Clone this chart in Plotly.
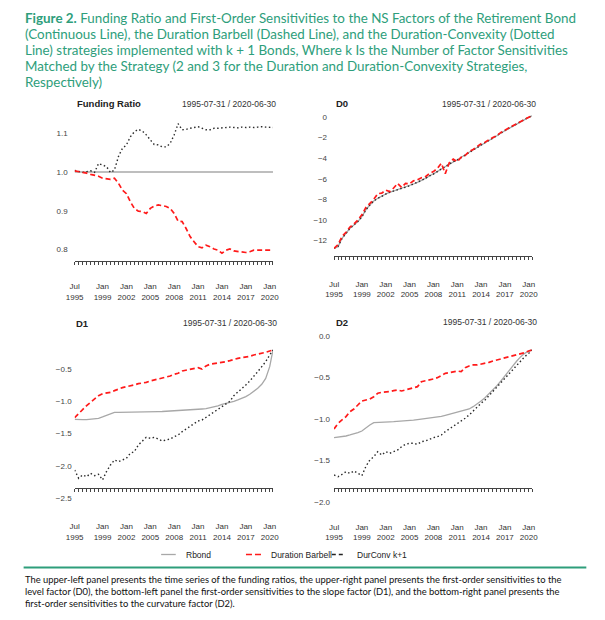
import plotly.graph_objects as go

W, H = 605, 620

# ---------------- data (semi-annual readings) ----------------
DATES = [
    "1995-07-31", "1996-01-31", "1996-07-31", "1997-01-31", "1997-07-31", "1998-01-31",
    "1998-07-31", "1999-01-31", "1999-07-31", "2000-01-31", "2000-07-31", "2001-01-31",
    "2001-07-31", "2002-01-31", "2002-07-31", "2003-01-31", "2003-07-31", "2004-01-31",
    "2004-07-31", "2005-01-31", "2005-07-31", "2006-01-31", "2006-07-31", "2007-01-31",
    "2007-07-31", "2008-01-31", "2008-07-31", "2009-01-31", "2009-07-31", "2010-01-31",
    "2010-07-31", "2011-01-31", "2011-07-31", "2012-01-31", "2012-07-31", "2013-01-31",
    "2013-07-31", "2014-01-31", "2014-07-31", "2015-01-31", "2015-07-31", "2016-01-31",
    "2016-07-31", "2017-01-31", "2017-07-31", "2018-01-31", "2018-07-31", "2019-01-31",
    "2019-07-31", "2020-01-31", "2020-06-30",
]

# Funding ratio
FR_RBOND = [1.000, 1.000, 1.000, 1.000, 1.000, 1.000, 1.000, 1.000, 1.000, 1.000,
            1.000, 1.000, 1.000, 1.000, 1.000, 1.000, 1.000, 1.000, 1.000, 1.000,
            1.000, 1.000, 1.000, 1.000, 1.000, 1.000, 1.000, 1.000, 1.000, 1.000,
            1.000, 1.000, 1.000, 1.000, 1.000, 1.000, 1.000, 1.000, 1.000, 1.000,
            1.000, 1.000, 1.000, 1.000, 1.000, 1.000, 1.000, 1.000, 1.000, 1.000, 1.000]
FR_DUR = [1.003, 1.001, 1.000, 0.997, 0.994, 0.992, 0.989, 0.984, 0.982, 0.981,
          0.984, 0.971, 0.953, 0.944, 0.923, 0.906, 0.899, 0.898, 0.893, 0.906,
          0.912, 0.915, 0.913, 0.911, 0.906, 0.893, 0.873, 0.872, 0.854, 0.833,
          0.820, 0.807, 0.804, 0.811, 0.807, 0.801, 0.798, 0.790, 0.798, 0.801,
          0.796, 0.794, 0.794, 0.792, 0.794, 0.798, 0.798, 0.798, 0.798, 0.798, 0.798]
FR_DURCONV = [1.004, 1.002, 0.999, 1.001, 1.003, 0.999, 1.022, 1.018, 1.014, 0.999,
              1.005, 1.040, 1.061, 1.070, 1.091, 1.104, 1.110, 1.106, 1.096, 1.083,
              1.071, 1.070, 1.065, 1.065, 1.074, 1.096, 1.125, 1.109, 1.110, 1.113,
              1.115, 1.117, 1.113, 1.109, 1.109, 1.113, 1.113, 1.114, 1.115, 1.116,
              1.115, 1.114, 1.116, 1.115, 1.116, 1.115, 1.116, 1.117, 1.116, 1.115, 1.115]

# D0
D0_RBOND = [-12.75, -12.59, -11.78, -11.30, -10.81, -10.49, -10.16, -9.68, -9.03, -8.55,
            -8.16, -7.90, -7.67, -7.48, -7.32, -7.19, -7.03, -6.93, -6.83, -6.67,
            -6.51, -6.35, -6.18, -5.96, -5.73, -5.54, -5.31, -5.05, -4.83, -4.57,
            -4.34, -4.18, -3.95, -3.69, -3.43, -3.21, -2.95, -2.72, -2.50, -2.27,
            -2.04, -1.82, -1.56, -1.33, -1.10, -0.88, -0.65, -0.42, -0.23, -0.04, 0.12]
D0_DUR = [-12.75, -12.40, -11.60, -11.20, -10.70, -10.40, -10.00, -9.50, -8.80, -8.40,
          -8.00, -7.45, -7.40, -7.10, -7.25, -6.90, -6.45, -6.85, -6.45, -6.50,
          -6.20, -6.10, -5.90, -5.80, -5.50, -5.30, -5.00, -4.50, -5.50, -4.45,
          -4.10, -4.35, -3.90, -3.75, -3.35, -3.15, -2.90, -2.60, -2.45, -2.20,
          -2.00, -1.80, -1.50, -1.30, -1.05, -0.85, -0.65, -0.42, -0.22, -0.03, 0.12]
D0_DURCONV = [-12.74, -12.58, -11.80, -11.28, -10.82, -10.48, -10.15, -9.70, -9.02, -8.56,
              -8.15, -7.91, -7.66, -7.49, -7.31, -7.20, -7.02, -6.94, -6.82, -6.68,
              -6.50, -6.36, -6.17, -5.97, -5.72, -5.55, -5.30, -5.06, -4.82, -4.58,
              -4.33, -4.19, -3.94, -3.70, -3.42, -3.22, -2.94, -2.73, -2.49, -2.28,
              -2.03, -1.83, -1.55, -1.34, -1.09, -0.89, -0.64, -0.43, -0.22, -0.04, 0.12]

# D1
D1_RBOND = [-1.277, -1.283, -1.283, -1.283, -1.277, -1.272, -1.262, -1.241, -1.220, -1.195,
            -1.169, -1.169, -1.169, -1.169, -1.168, -1.167, -1.166, -1.164, -1.162, -1.160,
            -1.159, -1.158, -1.156, -1.153, -1.151, -1.148, -1.146, -1.143, -1.138, -1.132,
            -1.127, -1.122, -1.117, -1.112, -1.101, -1.086, -1.070, -1.044, -1.031, -1.019,
            -0.999, -0.977, -0.952, -0.925, -0.889, -0.848, -0.796, -0.734, -0.641, -0.460, -0.201]
D1_DUR = [-1.252, -1.184, -1.117, -1.065, -1.013, -0.967, -0.910, -0.879, -0.869, -0.858,
          -0.832, -0.806, -0.786, -0.770, -0.760, -0.744, -0.724, -0.718, -0.703, -0.682,
          -0.667, -0.651, -0.630, -0.615, -0.605, -0.579, -0.563, -0.527, -0.517, -0.496,
          -0.486, -0.475, -0.496, -0.449, -0.423, -0.413, -0.408, -0.392, -0.382, -0.366,
          -0.346, -0.330, -0.320, -0.310, -0.299, -0.278, -0.268, -0.253, -0.237, -0.216, -0.201]
D1_DURCONV = [-2.064, -2.193, -2.142, -2.168, -2.116, -2.152, -2.131, -2.219, -2.090, -1.986,
              -1.909, -1.935, -1.909, -1.883, -1.805, -1.779, -1.676, -1.614, -1.557, -1.572,
              -1.557, -1.583, -1.614, -1.598, -1.583, -1.547, -1.521, -1.469, -1.427, -1.391,
              -1.355, -1.303, -1.288, -1.246, -1.210, -1.169, -1.122, -1.081, -1.039, -0.998,
              -0.910, -0.858, -0.796, -0.744, -0.682, -0.615, -0.537, -0.460, -0.382, -0.278, -0.201]

# D2
D2_RBOND = [-1.225, -1.221, -1.213, -1.205, -1.193, -1.181, -1.165, -1.145, -1.105, -1.073,
            -1.045, -1.040, -1.040, -1.036, -1.034, -1.032, -1.030, -1.028, -1.024, -1.020,
            -1.014, -1.008, -1.002, -0.996, -0.990, -0.984, -0.976, -0.968, -0.956, -0.944,
            -0.932, -0.920, -0.910, -0.900, -0.880, -0.852, -0.820, -0.784, -0.744, -0.699,
            -0.651, -0.599, -0.543, -0.479, -0.419, -0.358, -0.302, -0.250, -0.210, -0.182, -0.170]
D2_DUR = [-1.121, -1.053, -1.012, -0.972, -0.912, -0.880, -0.832, -0.784, -0.772, -0.760,
          -0.732, -0.691, -0.679, -0.679, -0.671, -0.659, -0.651, -0.663, -0.651, -0.631,
          -0.623, -0.611, -0.551, -0.543, -0.535, -0.519, -0.503, -0.479, -0.451, -0.443,
          -0.431, -0.423, -0.431, -0.382, -0.362, -0.350, -0.350, -0.342, -0.330, -0.318,
          -0.302, -0.290, -0.278, -0.262, -0.250, -0.238, -0.230, -0.218, -0.202, -0.182, -0.170]
D2_DURCONV = [-1.675, -1.695, -1.667, -1.635, -1.655, -1.626, -1.655, -1.683, -1.574, -1.494,
              -1.454, -1.394, -1.434, -1.394, -1.414, -1.394, -1.374, -1.334, -1.305, -1.293,
              -1.293, -1.305, -1.273, -1.265, -1.241, -1.225, -1.213, -1.193, -1.153, -1.121,
              -1.093, -1.053, -1.032, -0.992, -0.952, -0.904, -0.852, -0.812, -0.772, -0.719,
              -0.671, -0.623, -0.571, -0.519, -0.463, -0.410, -0.358, -0.302, -0.250, -0.210, -0.170]

# tick labels
X_TICK_LABELS = {
    "1995-07-31": "Jul<br>1995", "1999-01-31": "Jan<br>1999", "2002-01-31": "Jan<br>2002",
    "2005-01-31": "Jan<br>2005", "2008-01-31": "Jan<br>2008", "2011-01-31": "Jan<br>2011",
    "2014-01-31": "Jan<br>2014", "2017-01-31": "Jan<br>2017", "2020-01-31": "Jan<br>2020",
}
FR_TICKS = [0.8, 0.9, 1.0, 1.1]
D0_TICKS = [0, -2, -4, -6, -8, -10, -12]
D1_TICKS = [-0.5, -1.0, -1.5, -2.0, -2.5]
D2_TICKS = [0.0, -0.5, -1.0, -1.5, -2.0]

PANEL_TITLES = ["Funding Ratio", "D0", "D1", "D2"]
PERIOD = "1995-07-31 / 2020-06-30"
SERIES_NAMES = ["Rbond", "Duration Barbell", "DurConv k+1"]

TITLE_LINES = [
    "<b>Figure 2.</b> Funding Ratio and First-Order Sensitivities to the NS Factors of the Retirement Bond",
    "(Continuous Line), the Duration Barbell (Dashed Line), and the Duration-Convexity (Dotted",
    "Line) strategies implemented with k + 1 Bonds, Where k Is the Number of Factor Sensitivities",
    "Matched by the Strategy (2 and 3 for the Duration and Duration-Convexity Strategies,",
    "Respectively)",
]
CAPTION_LINES = [
    "The upper-left panel presents the time series of the funding ratios, the upper-right panel presents the first-order sensitivities to the",
    "level factor (D0), the bottom-left panel the first-order sensitivities to the slope factor (D1), and the bottom-right panel presents the",
    "first-order sensitivities to the curvature factor (D2).",
]

# ---------------- styles ----------------
GREEN = "#2e9e7b"
GRAY = "#a8a8a8"
RED = "#ff1a1a"
DOTC = "#2a2a2a"
AXC = "#444444"
FONT = "Liberation Sans, Arial, sans-serif"


def xp(px):
    return px / W


def yp(py):
    return 1 - py / H


fig = go.Figure()

panels = [
    ("x", "y", FR_RBOND, FR_DUR, FR_DURCONV),
    ("x2", "y2", D0_RBOND, D0_DUR, D0_DURCONV),
    ("x3", "y3", D1_RBOND, D1_DUR, D1_DURCONV),
    ("x4", "y4", D2_RBOND, D2_DUR, D2_DURCONV),
]
for xa, ya, rb, du, dc in panels:
    fig.add_trace(go.Scatter(x=DATES, y=rb, xaxis=xa, yaxis=ya, mode="lines",
                             line=dict(color=GRAY, width=1.3), showlegend=False, name=SERIES_NAMES[0]))
    fig.add_trace(go.Scatter(x=DATES, y=dc, xaxis=xa, yaxis=ya, mode="lines",
                             line=dict(color=DOTC, width=1.4, dash="1.5px,2.5px"), showlegend=False,
                             name=SERIES_NAMES[2]))
    fig.add_trace(go.Scatter(x=DATES, y=du, xaxis=xa, yaxis=ya, mode="lines",
                             line=dict(color=RED, width=1.7, dash="5px,3px"), showlegend=False,
                             name=SERIES_NAMES[1]))

tickvals = DATES
ticktext = [X_TICK_LABELS.get(d, "") for d in DATES]


def xaxis(dom_px, anchor, standoff, position=None):
    d = dict(domain=[xp(dom_px[0]), xp(dom_px[1])], type="date",
             range=[DATES[0], DATES[-1]], showline=True, linecolor=AXC, linewidth=1.3,
             ticks="outside", ticklen=3, tickwidth=1, tickcolor=AXC,
             tickmode="array", tickvals=tickvals, ticktext=ticktext,
             tickfont=dict(family=FONT, size=8, color="#333"), ticklabelstandoff=standoff,
             showgrid=False, zeroline=False, fixedrange=True)
    if position is None:
        d["anchor"] = anchor
    else:
        d["anchor"] = "free"
        d["position"] = position
    return d


def yaxis(dom_py, rng, ticks, fmt, anchor, standoff):
    return dict(domain=[yp(dom_py[1]), yp(dom_py[0])], range=rng, anchor=anchor,
                showline=False, ticks="", ticklen=0, tickmode="array", tickvals=ticks, tickformat=fmt,
                tickfont=dict(family=FONT, size=8, color="#444"), ticklabelstandoff=standoff,
                showgrid=False, zeroline=False, fixedrange=True, automargin=False)


LX = (67.3, 270.7)
RX = (333.3, 536.3)

fig.update_layout(
    width=W, height=H, margin=dict(l=0, r=0, t=0, b=0),
    paper_bgcolor="white", plot_bgcolor="white", showlegend=False,
    xaxis=xaxis(LX, "y", 15),
    yaxis=yaxis((110, 260.7), [0.7708, 1.1602], FR_TICKS, ".1f", "x", 6),
    xaxis2=xaxis(RX, "y2", 17),
    yaxis2=yaxis((110, 256), [-13.50, 0.676], D0_TICKS, "d", "x2", 6),
    xaxis3=xaxis(LX, "y3", 28, position=yp(487.7)),
    yaxis3=yaxis((335, 505), [-2.608, 0.032], D1_TICKS, ".1f", "x3", 2),
    xaxis4=xaxis(RX, "y4", 28, position=yp(488)),
    yaxis4=yaxis((330, 508), [-2.072, 0.071], D2_TICKS, ".1f", "x4", 3),
)

ann = []
# panel titles
for title, (tx, ty), dx in zip(PANEL_TITLES, [(68, 104), (333, 104), (67, 323), (333, 322)],
                               [276, 542, 277, 543]):
    ann.append(dict(text="<b>%s</b>" % title, x=xp(tx), y=yp(ty), xref="paper", yref="paper",
                    xanchor="left", yanchor="middle", showarrow=False,
                    font=dict(family=FONT, size=9.5, color="#222")))
    ann.append(dict(text=PERIOD, x=xp(dx), y=yp(ty), xref="paper", yref="paper",
                    xanchor="right", yanchor="middle", showarrow=False,
                    font=dict(family=FONT, size=8.5, color="#333")))

# figure title and caption (one annotation per line)
for i, line in enumerate(TITLE_LINES):
    ann.append(dict(text=line, x=xp(14), y=yp(18 + 16 * i), xref="paper", yref="paper",
                    xanchor="left", yanchor="middle", align="left", showarrow=False,
                    font=dict(family="Lato, sans-serif", size=13.4, color=GREEN)))
for i, line in enumerate(CAPTION_LINES):
    ann.append(dict(text=line, x=xp(14), y=yp(579 + 12 * i), xref="paper", yref="paper",
                    xanchor="left", yanchor="middle", align="left", showarrow=False,
                    font=dict(family="Lato, sans-serif", size=9.4, color="#111")))

# legend (drawn)
LEG_Y = 554.5
for name, lx in zip(SERIES_NAMES, [179, 267, 355]):
    ann.append(dict(text=name, x=xp(lx), y=yp(LEG_Y), xref="paper", yref="paper",
                    xanchor="left", yanchor="middle", showarrow=False,
                    font=dict(family=FONT, size=8.5, color="#222")))

shapes = [
    dict(type="line", xref="paper", yref="paper", x0=xp(156), x1=xp(171), y0=yp(LEG_Y), y1=yp(LEG_Y),
         line=dict(color=GRAY, width=1.3)),
    dict(type="line", xref="paper", yref="paper", x0=xp(243), x1=xp(260), y0=yp(LEG_Y), y1=yp(LEG_Y),
         line=dict(color=RED, width=1.6, dash="6px,3px")),
    dict(type="line", xref="paper", yref="paper", x0=xp(331), x1=xp(344), y0=yp(LEG_Y), y1=yp(LEG_Y),
         line=dict(color="#222", width=1.3, dash="4px,3px")),
    dict(type="line", xref="paper", yref="paper", x0=xp(15), x1=xp(592), y0=yp(567.5), y1=yp(567.5),
         line=dict(color=GREEN, width=2)),
]

fig.update_layout(annotations=ann, shapes=shapes)
fig.write_html("out.html", config={"displayModeBar": False},
               post_script="document.body.style.margin='0';")
